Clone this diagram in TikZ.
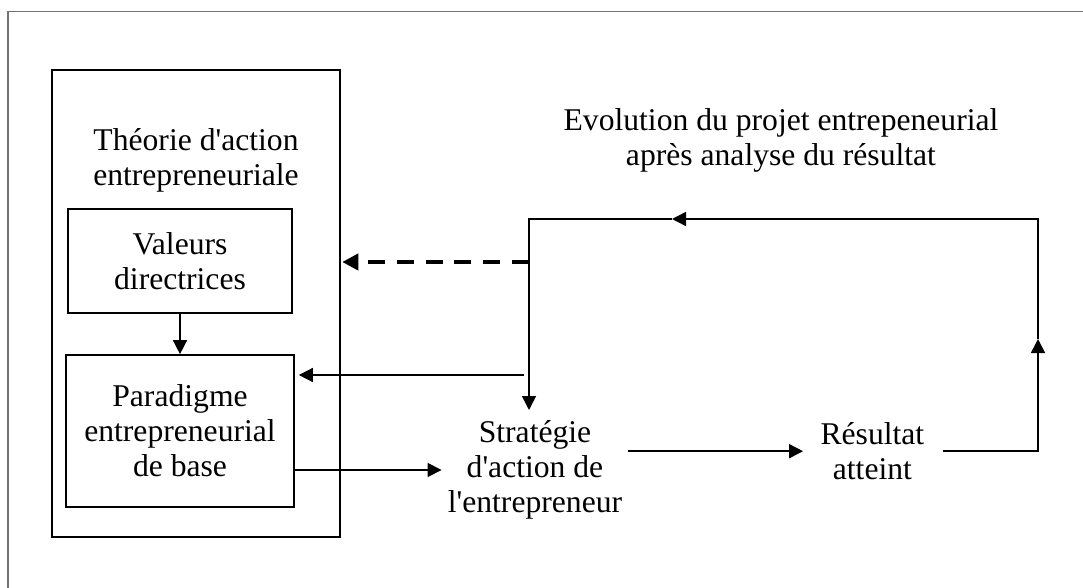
\documentclass[tikz,border=0pt]{standalone}
\usepackage{fontspec}
\setmainfont{Liberation Serif}
\usetikzlibrary{arrows.meta}

\begin{document}
\begin{tikzpicture}[
    box/.style={draw, line width=1.2pt, align=center, inner sep=0pt},
    txt/.style={align=center, inner sep=0.15cm},
    arr/.style={line width=1.1pt, -{Triangle[length=0.35cm, width=0.35cm]}},
    dasharr/.style={line width=2.8pt, dash pattern=on 12pt off 8.5pt, -{Triangle[length=0.4cm, width=0.4cm]}},
    font=\fontsize{22.5}{25}\selectfont
  ]
    \useasboundingbox (0, 0) rectangle (27.075, -14.7);

    % 外枠
    \draw[black!55, line width=1pt] (0.2, -14.7) -- (0.2, -0.29) -- (27.075, -0.29);

    % 箱
    \node[box, minimum width=7.2cm, minimum height=11.675cm] (theorie) at (4.9, -7.5875) {};
    \node[txt] (theorietxt) at (4.9, -4.01) {Théorie d\textquotesingle action\\entrepreneuriale};
    \node[box, minimum width=5.6cm, minimum height=2.6cm] (valeurs) at (4.5, -6.525) {Valeurs\\directrices};
    \node[box, minimum width=5.7cm, minimum height=3.8cm] (para) at (4.5, -10.775) {Paradigme\\entrepreneurial\\de base};

    % 文字
    \node[txt] (strat) at (13.375, -11.75) {Stratégie\\d\textquotesingle action de\\l\textquotesingle entrepreneur};
    \node[txt] (res) at (21.81, -11.28) {Résultat\\atteint};
    \node[txt] (evol) at (19.525, -3.51) {Evolution du projet entrepeneurial\\après analyse du résultat};

    % 矢印
    \coordinate (fork1) at (13.225, -6.55);
    \coordinate (fork2) at (13.1, -9.375);
    \coordinate (upmid) at (25.95, -8.475);
    \coordinate (topmid) at (16.8, -5.475);
    \coordinate (stratin) at (13.225, -10.25);

    \draw[arr] (valeurs) -- (para);
    \draw[dasharr, shorten >=1pt] (fork1) -- (fork1 -| theorie.east);
    \draw[arr, shorten >=0.1cm] (fork2) -- (fork2 -| para.east);
    \draw[arr] (para.east |- strat) -- (strat.west);
    \draw[arr, shorten >=0.28cm] (strat.east |- res) -- (res.west);
    \draw[arr, shorten <=0.3cm] (res.east) -| (upmid);
    \draw[arr] (upmid) |- (topmid);
    \draw[arr] (topmid) -| (stratin);

\end{tikzpicture}
\end{document}
